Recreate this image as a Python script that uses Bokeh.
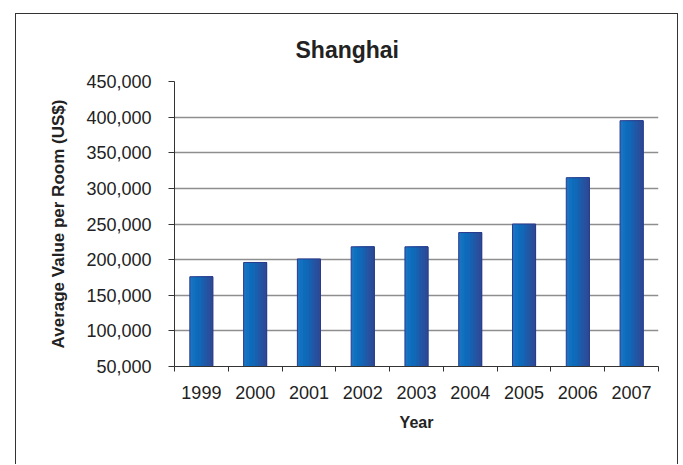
from bokeh.plotting import figure
from bokeh.models import (ColumnDataSource, FixedTicker, NumeralTickFormatter,
                          Range1d)
from bokeh.transform import dodge
from bokeh.embed import file_html
from bokeh.resources import INLINE

# Average hotel value per room in Shanghai, US$
years = [1999, 2000, 2001, 2002, 2003, 2004, 2005, 2006, 2007]
values = [176000, 196000, 201000, 218000, 218000, 238000, 250000, 315000, 395000]
y_ticks = [50000, 100000, 150000, 200000, 250000, 300000, 350000, 400000, 450000]

src = ColumnDataSource(data=dict(year=years, value=values))

FONT = "Liberation Sans"
TEXT = "#222222"

p = figure(width=663, height=451, output_backend="svg", toolbar_location=None,
           x_range=Range1d(1998.5, 2007.5), y_range=Range1d(50000, 450000),
           min_border_left=158, min_border_right=21,
           min_border_top=67, min_border_bottom=99,
           background_fill_color="white", border_fill_color="white")
p.outline_line_color = None
p.styles = {"margin-left": "15px", "margin-top": "13px",
            "border-left": "1px solid #333333",
            "border-top": "1px solid #333333",
            "border-right": "1px solid #333333"}

# chart title, centred over the whole chart rather than the plot area
p.title.text = "Shanghai"
p.title.align = "left"
p.title.offset = 121
p.title.standoff = 37
p.title.text_font = FONT
p.title.text_font_size = "23px"
p.title.text_font_style = "bold"
p.title.text_color = TEXT

# bars: shaded in overlapping vertical strips from lighter blue to deep navy
bar_w = 0.43
shades = ["#1a74c2", "#1170bf", "#0c6cbb", "#1267b6", "#195faf",
          "#2058a6", "#27519e", "#2b4b96"]
n = len(shades)
strip = bar_w / n
for i, c in enumerate(shades):
    # each strip reaches from its left edge to the bar's right edge,
    # so later (darker) strips cover the seams of earlier ones
    left = -bar_w / 2 + strip * i
    w = bar_w / 2 - left
    p.vbar(x=dodge("year", left + w / 2), top="value", bottom=50000, width=w,
           source=src, fill_color=c, line_color=None)
p.vbar(x="year", top="value", bottom=50000, width=bar_w, source=src,
       fill_color=None, line_color="#2b3a8c", line_width=1)

# grid
p.xgrid.grid_line_color = None
p.ygrid.ticker = FixedTicker(ticks=y_ticks)
p.ygrid.grid_line_color = "#8e8e8e"
p.ygrid.grid_line_width = 1.4

# y axis
p.yaxis.ticker = FixedTicker(ticks=y_ticks)
p.yaxis.formatter = NumeralTickFormatter(format="0,0")
p.yaxis.axis_line_color = "#333333"
p.yaxis.major_tick_line_color = "#333333"
p.yaxis.major_tick_out = 6
p.yaxis.major_tick_in = 0
p.yaxis.minor_tick_line_color = None
p.yaxis.major_label_text_font = FONT
p.yaxis.major_label_text_font_size = "18px"
p.yaxis.major_label_text_color = TEXT
p.yaxis.major_label_standoff = 17
p.yaxis.axis_label = "Average Value per Room (US$)"
p.yaxis.axis_label_text_font = FONT
p.yaxis.axis_label_text_font_size = "17px"
p.yaxis.axis_label_text_font_style = "bold"
p.yaxis.axis_label_text_color = TEXT
p.yaxis.axis_label_standoff = 15

# x axis: labels under bars, tick marks between categories
p.xaxis.ticker = FixedTicker(ticks=years,
                             minor_ticks=[y - 0.5 for y in years] + [years[-1] + 0.5])
p.xaxis.axis_line_color = "#333333"
p.xaxis.major_tick_line_color = None
p.xaxis.major_tick_out = 0
p.xaxis.major_tick_in = 0
p.xaxis.minor_tick_line_color = "#333333"
p.xaxis.minor_tick_out = 5
p.xaxis.minor_tick_in = 0
p.xaxis.major_label_text_font = FONT
p.xaxis.major_label_text_font_size = "18px"
p.xaxis.major_label_text_color = TEXT
p.xaxis.major_label_standoff = 14
p.xaxis.axis_label = "Year"
p.xaxis.axis_label_text_font = FONT
p.xaxis.axis_label_text_font_size = "16px"
p.xaxis.axis_label_text_font_style = "bold"
p.xaxis.axis_label_text_color = TEXT
p.xaxis.axis_label_standoff = 12

open("out.html", "w").write(file_html(p, INLINE))
